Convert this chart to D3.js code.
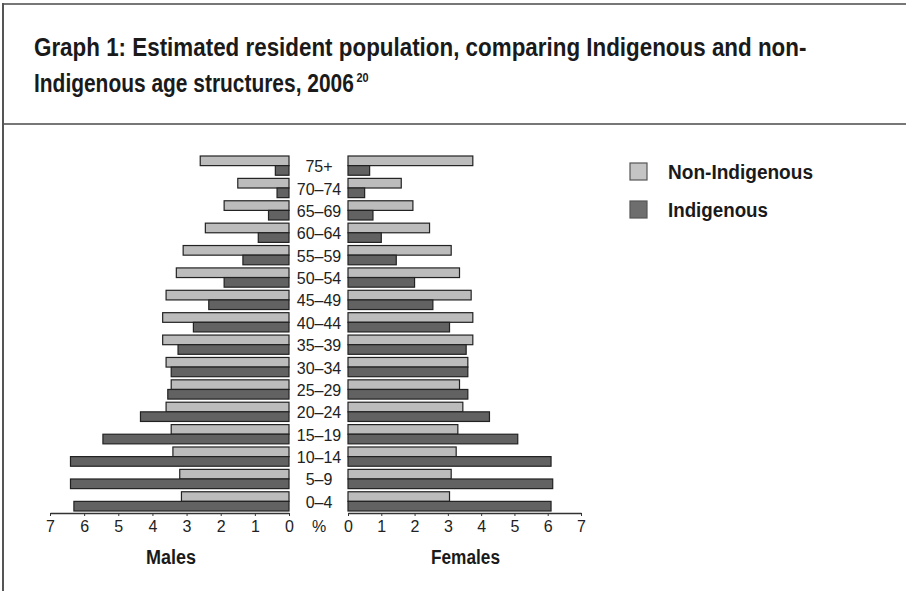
<!DOCTYPE html>
<html lang="en">
<head>
<meta charset="UTF-8">
<title>Graph 1: Indigenous and non-Indigenous age structures</title>
<style>
  body { margin: 0; background: #fff; }
  svg { display: block; }
  .title { font-family: "Liberation Sans Narrow", "Liberation Sans", Arial, sans-serif; font-weight: bold; font-size: 25px; fill: #1a1a1a; }
  .head { font-family: "Liberation Sans Narrow", "Liberation Sans", Arial, sans-serif; font-weight: bold; font-size: 20px; fill: #1a1a1a; }
  .lbl { font-family: "Liberation Sans", Arial, sans-serif; font-size: 16px; fill: #222; }
  .axis text { font-family: "Liberation Sans", Arial, sans-serif; font-size: 16px; fill: #222; }
  .axis path, .axis line { stroke: #333; }
</style>
</head>
<body>
<div id="chart"></div>
<script src="https://cdn.jsdelivr.net/npm/d3@7"></script>
<script>
// age groups, oldest first (top of the pyramid)
const ages = ["75+", "70–74", "65–69", "60–64", "55–59", "50–54", "45–49", "40–44",
              "35–39", "30–34", "25–29", "20–24", "15–19", "10–14", "5–9", "0–4"];

// % of population
const maleNonIndig   = [2.6, 1.5, 1.9, 2.45, 3.1, 3.3, 3.6, 3.7, 3.7, 3.6, 3.45, 3.6, 3.45, 3.4, 3.2, 3.15];
const maleIndig      = [0.4, 0.35, 0.6, 0.9, 1.35, 1.9, 2.35, 2.8, 3.25, 3.45, 3.55, 4.35, 5.45, 6.4, 6.4, 6.3];
const femaleNonIndig = [3.75, 1.6, 1.95, 2.45, 3.1, 3.35, 3.7, 3.75, 3.75, 3.6, 3.35, 3.45, 3.3, 3.25, 3.1, 3.05];
const femaleIndig    = [0.65, 0.5, 0.75, 1.0, 1.45, 2.0, 2.55, 3.05, 3.55, 3.6, 3.6, 4.25, 5.1, 6.1, 6.15, 6.1];

const ticks = [0, 1, 2, 3, 4, 5, 6, 7];
const seriesNames = ["Non-Indigenous", "Indigenous"];
const fills = ["#bcbcbc", "#626262"];

const width = 906, height = 591;

const svg = d3.select("#chart").append("svg")
    .attr("width", width)
    .attr("height", height);

// frame
svg.append("line").attr("x1", 3).attr("x2", width).attr("y1", 4).attr("y2", 4)
    .attr("stroke", "#777").attr("stroke-width", 2);
svg.append("line").attr("x1", 3).attr("x2", width).attr("y1", 124).attr("y2", 124)
    .attr("stroke", "#777").attr("stroke-width", 2);
svg.append("line").attr("x1", 3).attr("x2", 3).attr("y1", 3).attr("y2", height)
    .attr("stroke", "#555").attr("stroke-width", 2);

// condensed look: squeeze a group horizontally so its text hits a target width
function squeezed(x, yPos, str, target) {
    const grp = svg.append("g");
    const t = grp.append("text").attr("class", "title").attr("y", yPos).text(str);
    const len = t.node().getComputedTextLength();
    grp.attr("transform", `translate(${x},0) scale(${target / len},1)`);
    return { grp, len };
}

squeezed(34, 56, "Graph 1: Estimated resident population, comparing Indigenous and non-", 773);
const line2 = squeezed(34, 92, "Indigenous age structures, 2006", 320);
line2.grp.append("text").attr("class", "title")
    .attr("x", line2.len + 3).attr("y", 82)
    .style("font-size", "13px")
    .text("20");

// scales
const xMale = d3.scaleLinear().domain([0, 7]).range([289, 50]);
const xFemale = d3.scaleLinear().domain([0, 7]).range([348, 581]);
const y = d3.scaleBand().domain(ages).range([156, 511]).paddingInner(0.14);
const sub = d3.scaleBand().domain(seriesNames).range([0, y.bandwidth()]);

const rows = ages.map((a, i) => ({
    age: a,
    male: [maleNonIndig[i], maleIndig[i]],
    female: [femaleNonIndig[i], femaleIndig[i]]
}));

const g = svg.append("g");

rows.forEach(r => {
    seriesNames.forEach((s, j) => {
        g.append("rect")
            .attr("x", xMale(r.male[j]))
            .attr("y", y(r.age) + sub(s))
            .attr("width", xMale(0) - xMale(r.male[j]))
            .attr("height", sub.bandwidth())
            .attr("fill", fills[j])
            .attr("stroke", "#222")
            .attr("stroke-width", 1.2);
        g.append("rect")
            .attr("x", xFemale(0))
            .attr("y", y(r.age) + sub(s))
            .attr("width", xFemale(r.female[j]) - xFemale(0))
            .attr("height", sub.bandwidth())
            .attr("fill", fills[j])
            .attr("stroke", "#222")
            .attr("stroke-width", 1.2);
    });
});

// age labels in the middle
g.selectAll(".age").data(ages).enter().append("text")
    .attr("class", "lbl")
    .attr("x", 319)
    .attr("y", d => y(d) + y.bandwidth() / 2 + 1)
    .attr("text-anchor", "middle")
    .attr("dominant-baseline", "central")
    .text(d => d);

// axes
const axisY = 513;
svg.append("g").attr("class", "axis")
    .attr("transform", `translate(0,${axisY})`)
    .call(d3.axisBottom(xMale).tickValues(ticks).tickFormat(d3.format("d")).tickSize(3).tickPadding(5).tickSizeOuter(0));
svg.append("g").attr("class", "axis")
    .attr("transform", `translate(0,${axisY})`)
    .call(d3.axisBottom(xFemale).tickValues(ticks).tickFormat(d3.format("d")).tickSize(3).tickPadding(5).tickSizeOuter(0));
svg.selectAll(".axis .domain").attr("stroke-width", 1.5);

svg.append("text").attr("class", "lbl")
    .attr("x", 319).attr("y", axisY + 8).attr("dy", "0.71em")
    .attr("text-anchor", "middle").text("%");

svg.append("text").attr("class", "head").attr("x", 146).attr("y", 564)
    .attr("textLength", 50).attr("lengthAdjust", "spacingAndGlyphs").text("Males");
svg.append("text").attr("class", "head").attr("x", 431).attr("y", 564)
    .attr("textLength", 69).attr("lengthAdjust", "spacingAndGlyphs").text("Females");

// legend
const legendWidths = [145, 100];
const legend = svg.append("g").attr("transform", "translate(630,163)");
seriesNames.forEach((s, i) => {
    const row = legend.append("g").attr("transform", `translate(0,${i * 38})`);
    row.append("rect").attr("width", 17).attr("height", 17)
        .attr("fill", i === 0 ? "#c4c4c4" : "#6e6e6e")
        .attr("stroke", "#555").attr("stroke-width", 1.2);
    row.append("text").attr("class", "head")
        .attr("x", 38).attr("y", 16)
        .attr("textLength", legendWidths[i]).attr("lengthAdjust", "spacingAndGlyphs")
        .text(s);
});
</script>
</body>
</html>
